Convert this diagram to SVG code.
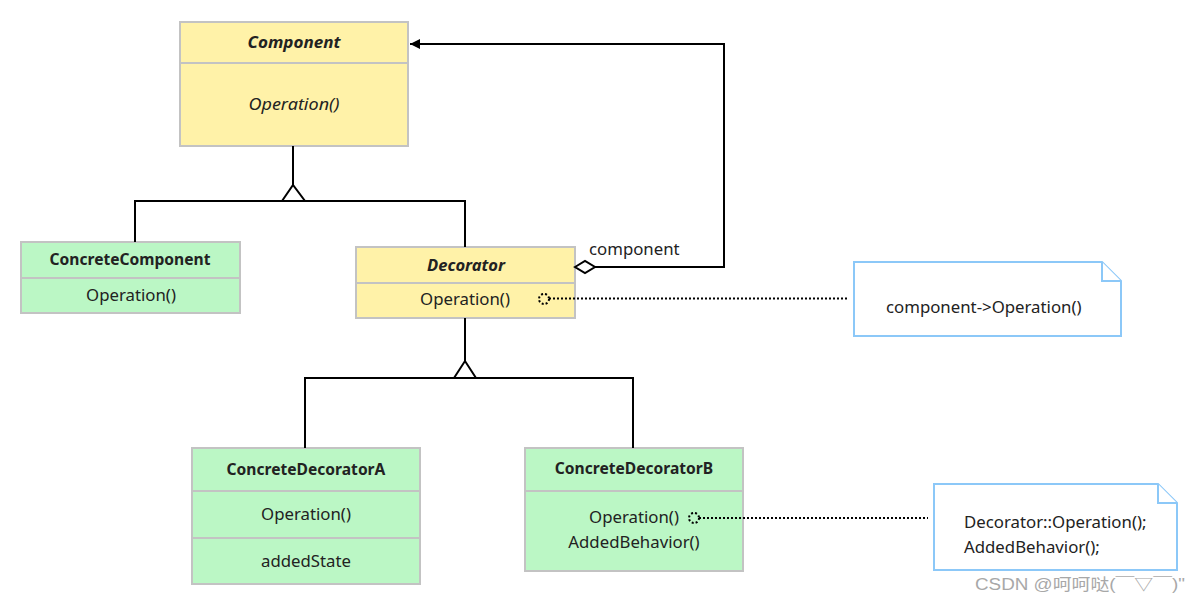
<svg xmlns="http://www.w3.org/2000/svg" width="1202" height="604" viewBox="0 0 1202 604">
<defs>
<style>
text{font-family:"Noto Sans","Open Sans","Liberation Sans",sans-serif;font-size:16.8px;fill:#222;text-anchor:middle;dominant-baseline:central}
.y{fill:#fff2a8;stroke:#c3c3c3;stroke-width:2}
.g{fill:#bbf7c5;stroke:#c3c3c3;stroke-width:2}
.b{font-weight:bold;font-size:15.6px}
.i{font-style:italic;font-size:17px}
.bi{font-weight:bold;font-style:italic;font-size:16.8px}
.ln{fill:none;stroke:#000;stroke-width:2}
.dot{fill:none;stroke:#000;stroke-width:2;stroke-dasharray:2 2}
.note{fill:#fff;stroke:#8cc8f8;stroke-width:2}
.l{text-anchor:start}
</style>
<marker id="arr" markerWidth="12" markerHeight="10" refX="10" refY="5" orient="auto" markerUnits="userSpaceOnUse">
<path d="M0,0 L10,5 L0,10 Z" fill="#000"/>
</marker>
</defs>
<rect width="1202" height="604" fill="#fff"/>
<g id="component">
<rect class="y" x="180" y="22" width="228" height="124"/>
<line x1="180" y1="63" x2="408" y2="63" stroke="#c3c3c3" stroke-width="2"/>
<text x="294" y="41" class="bi" textLength="93" lengthAdjust="spacingAndGlyphs">Component</text>
<text x="294" y="103" class="i" textLength="91" lengthAdjust="spacingAndGlyphs">Operation()</text>
</g>
<g id="concreteComponent">
<rect class="g" x="21" y="242" width="219" height="71"/>
<line x1="21" y1="278" x2="240" y2="278" stroke="#c3c3c3" stroke-width="2"/>
<text x="130" y="259" class="b">ConcreteComponent</text>
<text x="131" y="294">Operation()</text>
</g>
<g id="decorator">
<rect class="y" x="356" y="247" width="219" height="71"/>
<line x1="356" y1="283" x2="575" y2="283" stroke="#c3c3c3" stroke-width="2"/>
<text x="466" y="264" class="bi" textLength="78" lengthAdjust="spacingAndGlyphs">Decorator</text>
<text x="465" y="298">Operation()</text>
</g>
<g id="note1">
<path class="note" d="M854,262 H1102 L1121,281 V336 H854 Z"/>
<path class="note" d="M1102,262 V281 H1121"/>
<text x="886" y="306" class="l">component-&gt;Operation()</text>
</g>
<g id="concreteDecoratorA">
<rect class="g" x="192" y="448" width="228" height="136"/>
<line x1="192" y1="491" x2="420" y2="491" stroke="#c3c3c3" stroke-width="2"/>
<line x1="192" y1="538" x2="420" y2="538" stroke="#c3c3c3" stroke-width="2"/>
<text x="306" y="469" class="b">ConcreteDecoratorA</text>
<text x="306" y="513">Operation()</text>
<text x="306" y="560">addedState</text>
</g>
<g id="concreteDecoratorB">
<rect class="g" x="525" y="448" width="218" height="123"/>
<line x1="525" y1="491" x2="743" y2="491" stroke="#c3c3c3" stroke-width="2"/>
<text x="634" y="468" class="b">ConcreteDecoratorB</text>
<text x="634" y="516">Operation()</text>
<text x="634" y="541">AddedBehavior()</text>
</g>
<g id="note2">
<path class="note" d="M934,484 H1158 L1177,503 V570 H934 Z"/>
<path class="note" d="M1158,484 V503 H1177"/>
<text x="964" y="521" class="l">Decorator::Operation();</text>
<text x="964" y="546" class="l">AddedBehavior();</text>
</g>
<g id="connectors">
<path class="ln" d="M293,146 V186"/>
<path d="M282,201 L293,185 L305,201 Z" fill="#fff" stroke="#000" stroke-width="2"/>
<path class="ln" d="M135,242 V201 H282 M305,201 H465 V247"/>
<path class="ln" d="M465,318 V361"/>
<path d="M454,378 L465,361 L476,378 Z" fill="#fff" stroke="#000" stroke-width="2"/>
<path class="ln" d="M305,448 V378 H454 M476,378 H633 V448"/>
<path class="ln" d="M595,267 H724 V44 H410" marker-end="url(#arr)"/>
<path d="M575,267 L585,261 L595,267 L585,273 Z" fill="#fff" stroke="#000" stroke-width="2"/>
<text x="589" y="248" class="l">component</text>
<circle cx="544" cy="299" r="5" class="dot" stroke-width="1.5"/>
<path class="dot" d="M549,298.5 H848"/>
<circle cx="694" cy="518" r="5" class="dot" stroke-width="1.5"/>
<path class="dot" d="M699,518 H928"/>
</g>
<text x="975" y="584" class="l" textLength="210" lengthAdjust="spacingAndGlyphs" style="font-family:'Liberation Sans','Noto Sans CJK SC',sans-serif;fill:#a8a8a8;font-size:16px">CSDN @呵呵哒(￣▽￣)"</text>
</svg>
